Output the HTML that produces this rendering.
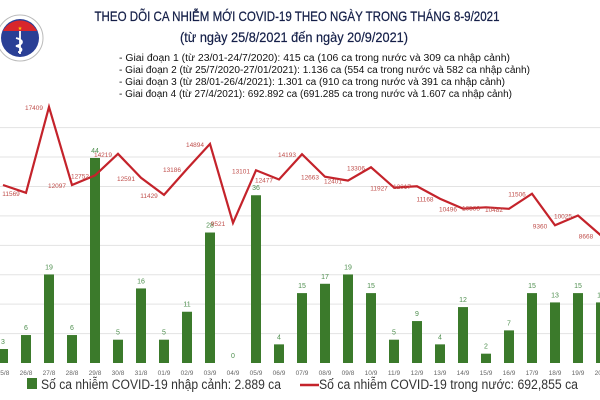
<!DOCTYPE html>
<html><head><meta charset="utf-8">
<style>
html,body{margin:0;padding:0;background:#fff;}
svg{display:block;font-family:"Liberation Sans","DejaVu Sans",sans-serif;}
</style></head>
<body>
<svg id="chart" width="600" height="400" viewBox="0 0 600 400">
  <rect x="0" y="0" width="600" height="400" fill="#fff"/>
  <g>
    <circle cx="20" cy="38" r="23" fill="#fff" stroke="#bbb" stroke-width="1"/>
    <circle cx="20" cy="38" r="19" fill="#2a3f95"/>
    <path d="M3,31 A19,19 0 0 1 37,31 Z" fill="#d8262c"/>
    <text x="20" y="30" font-size="5" fill="#ffd400" text-anchor="middle">★</text>
    <path d="M20,31 L20,54 M16,38 C24,40 24,44 16,46 C24,48 22,52 18,52" stroke="#fff" stroke-width="1.8" fill="none"/>
  </g>
  <text x="297" y="21" font-size="14" fill="#141f48" stroke="#141f48" stroke-width="0.25" text-anchor="middle" textLength="405" lengthAdjust="spacingAndGlyphs">THEO DÕI CA NHIỄM MỚI COVID-19 THEO NGÀY TRONG THÁNG 8-9/2021</text>
  <text x="294" y="42" font-size="14" fill="#141f48" stroke="#141f48" stroke-width="0.2" text-anchor="middle" textLength="228" lengthAdjust="spacingAndGlyphs">(từ ngày 25/8/2021 đến ngày 20/9/2021)</text>
  <g font-size="10" fill="#111">
    <text x="119" y="61" textLength="391" lengthAdjust="spacingAndGlyphs">- Giai đoạn 1 (từ 23/01-24/7/2020): 415 ca (106 ca trong nước và 309 ca nhập cảnh)</text>
    <text x="119" y="73" textLength="411" lengthAdjust="spacingAndGlyphs">- Giai đoạn 2 (từ 25/7/2020-27/01/2021): 1.136 ca (554 ca trong nước và 582 ca nhập cảnh)</text>
    <text x="119" y="85" textLength="386" lengthAdjust="spacingAndGlyphs">- Giai đoạn 3 (từ 28/01-26/4/2021): 1.301 ca (910 ca trong nước và 391 ca nhập cảnh)</text>
    <text x="119" y="97" textLength="393" lengthAdjust="spacingAndGlyphs">- Giai đoạn 4 (từ 27/4/2021): 692.892 ca (691.285 ca trong nước và 1.607 ca nhập cảnh)</text>
  </g>
  <g id="grid"></g>
  <g id="bars"></g>
  <g id="line"></g>
  <g id="xaxis"></g>
  <g>
    <g>
      <rect x="27" y="378" width="10" height="11" fill="#3b7a2b"/>
      <text x="41" y="389" font-size="13.5" fill="#333" textLength="240" lengthAdjust="spacingAndGlyphs">Số ca nhiễm COVID-19 nhập cảnh: 2.889 ca</text>
    </g>
    <g>
      <line x1="300" y1="385" x2="319" y2="385" stroke="#c4232b" stroke-width="2.5"/>
      <text x="319" y="389" font-size="13.5" fill="#333" textLength="259" lengthAdjust="spacingAndGlyphs">Số ca nhiễm COVID-19 trong nước: 692,855 ca</text>
    </g>
  </g>
</svg>
<script>
const categories = ["25/8","26/8","27/8","28/8","29/8","30/8","31/8","01/9","02/9","03/9","04/9","05/9","06/9","07/9","08/9","09/8","10/9","11/9","12/9","13/9","14/9","15/9","16/9","17/9","18/9","19/9","20/9"];
const importedCases = [3,6,19,6,44,5,16,5,11,28,0,36,4,15,17,19,15,5,9,4,12,2,7,15,13,15,13];
const domesticCases = [12100,11569,17409,12097,12752,14219,12591,11429,13186,14894,9521,13101,12477,14193,12663,12401,13306,11927,12017,11168,10496,10583,10482,11506,9360,10025,8668];
const gridValues = [0,2000,4000,6000,8000,10000,12000,14000,16000];

const NS = "http://www.w3.org/2000/svg";
const baseY = 363;
function xPos(i){ return 3 + i * 23.0; }
function yBar(v){ return baseY - v * 4.66; }
function yLine(v){ return baseY - v * 0.01471; }
function mk(tag, attrs, parent){
  const e = document.createElementNS(NS, tag);
  for (const k in attrs) e.setAttribute(k, attrs[k]);
  parent.appendChild(e);
  return e;
}
const grid = document.getElementById("grid");
gridValues.forEach(g => {
  if (g === 0) return;
  const l = mk("line", {x1:0, x2:600, y1:yLine(g), y2:yLine(g), stroke:"#e3e3e3", "stroke-width":1}, grid);
  
  
});
const bars = document.getElementById("bars");
importedCases.forEach((v, i) => {
  const y = yBar(v);
  const r = mk("rect", {x:xPos(i)-5, y:y, width:10, height:baseY-y, fill:"#3b7a2b"}, bars);
  
  
  const t = mk("text", {x:xPos(i), y:y-5, "font-size":7, fill:"#4f8f4f", "text-anchor":"middle"}, bars);
  t.textContent = v;
  
  
});
const line = document.getElementById("line");
const pts = domesticCases.map((v, i) => xPos(i) + "," + yLine(v)).join(" ");
const pl = mk("polyline", {points:pts, fill:"none", stroke:"#c4232b", "stroke-width":2.2, "stroke-linejoin":"miter"}, line);


domesticCases.forEach((v, i) => {
  const t = mk("text", {x:xPos(i)-15, y:yLine(v)+3, "font-size":6.5, fill:"#c0504d", "text-anchor":"middle"}, line);
  t.textContent = v;
  
  
});
const xa = document.getElementById("xaxis");
categories.forEach((c, i) => {
  const t = mk("text", {x:xPos(i), y:375, "font-size":6.5, fill:"#666", "text-anchor":"middle"}, xa);
  t.textContent = c;
  
  
});
</script>
</body></html>
